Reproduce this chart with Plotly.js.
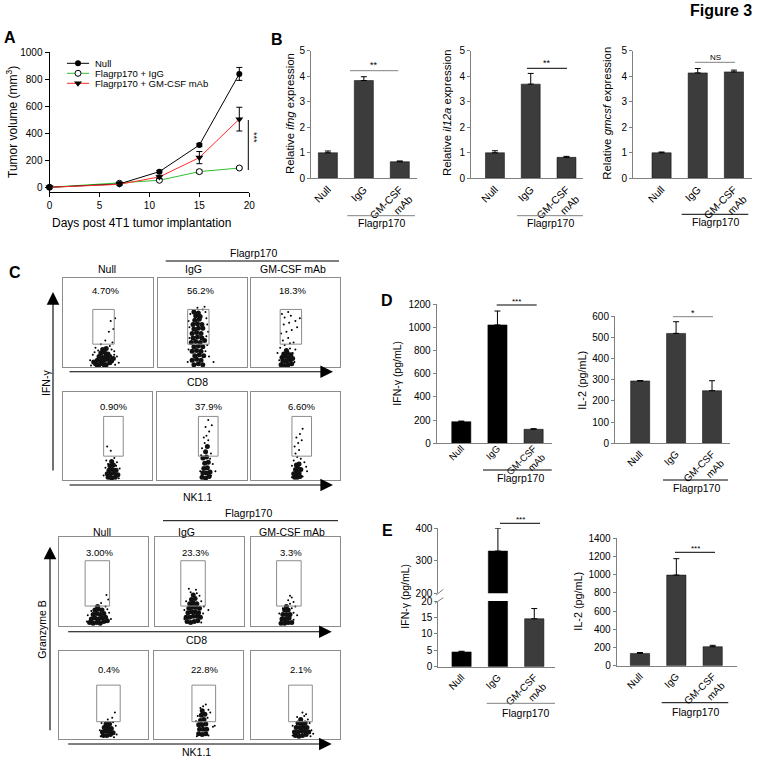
<!DOCTYPE html>
<html><head><meta charset="utf-8">
<script src="https://cdn.plot.ly/plotly-3.0.1.min.js"></script>
<style>html,body{margin:0;padding:0;background:#fff}#chart{width:759px;height:757px}</style>
</head><body><div id="chart"></div>
<script>
// ---------------- DATA ----------------
// Panel A: tumor growth
const days = [0, 7, 11, 15, 19];
const volNull = [0, 25, 116, 313, 840];
const errNull = [0, 5, 8, 10, 48];
const volIgG = [0, 30, 52, 116, 143];
const errIgG = [0, 4, 6, 13, 8];
const volGM = [0, 22, 77, 220, 505];
const errGM = [0, 6, 12, 45, 88];
const seriesNames = ['Null', 'Flagrp170 + IgG', 'Flagrp170 + GM-CSF mAb'];

// Bar groups
const groups = ['Null', 'IgG', 'GM-CSF<br>mAb'];
// Panel B
const ifngExpr = [1.0, 3.83, 0.65];
const ifngErr = [0.07, 0.15, 0.03];
const il12aExpr = [1.0, 3.69, 0.82];
const il12aErr = [0.08, 0.42, 0.04];
const gmcsfExpr = [1.0, 4.13, 4.17];
const gmcsfErr = [0.03, 0.17, 0.07];
// Panel D
const dIfng = [187, 1022, 121];
const dIfngErr = [5, 120, 5];
const dIl2 = [294, 518, 248];
const dIl2Err = [2, 55, 47];
// Panel E
const eIfng = [4.5, 330, 14.6];
const eIfngErr = [0.2, 70, 3.1];
const eIl2 = [135, 996, 209];
const eIl2Err = [10, 180, 15];

// Panel C: flow cytometry events (box units 0-100)
const flowCols = ['Null', 'IgG', 'GM-CSF mAb'];
const pctIfngCd8 = ['4.70%', '56.2%', '18.3%'];
const pctIfngNk = ['0.90%', '37.9%', '6.60%'];
const pctGzmCd8 = ['3.00%', '23.3%', '3.3%'];
const pctGzmNk = ['0.4%', '22.8%', '2.1%'];

const ifngCd8NullCore = [[36,4],[40,3],[44,4],[48,3],[52,5],[38,8],[42,7],[46,8],[50,9],[54,7],[40,12],[44,11],[48,13],[52,12],[42,16],[46,17],[50,15],[44,20],[48,21],[38,2],[46,2],[34,6],[56,10]];
const ifngCd8NullSparse = [[33,14],[57,18],[52,24],[42,26],[55,28],[47,30],[51,40],[56,43],[53,52],[58,55],[36,22],[60,12],[30,8],[62,5],[35,17],[58,3],[31,2],[54,20],[39,19],[57,14]];
const ifngCd8IgGCore = [[40,3],[45,4],[50,3],[38,8],[43,9],[48,8],[41,13],[46,14],[51,13],[38,18],[43,19],[48,18],[40,23],[45,24],[50,23],[37,28],[42,29],[47,28],[52,30],[39,33],[44,34],[49,33],[38,38],[43,39],[48,38],[40,43],[45,44],[50,44],[39,48],[44,49],[49,48],[41,53],[46,54],[42,58],[47,57],[40,62],[45,61]];
const ifngCd8IgGSparse = [[34,20],[55,25],[56,40],[35,45],[54,55],[50,65],[36,60],[53,62],[57,12],[33,6],[62,6],[55,48],[44,67],[52,68],[35,33],[54,35],[34,52],[53,18]];
const ifngCd8GMCore = [[34,3],[38,2],[42,3],[46,4],[36,7],[40,7],[44,8],[35,11],[39,12],[43,11],[47,10],[37,15],[41,16],[45,14],[40,19]];
const ifngCd8GMSparse = [[33,22],[38,25],[44,27],[36,30],[42,33],[48,28],[34,38],[40,40],[46,42],[52,45],[37,48],[43,50],[50,52],[38,56],[45,58],[42,62],[35,60],[55,55],[50,20],[30,16],[49,6],[32,8],[47,16],[44,21]];

const ifngNkNullCore = [[51,3],[55,2],[59,3],[50,7],[54,7],[58,8],[62,6],[52,11],[56,12],[60,11],[53,16],[57,17],[55,21]];
const ifngNkNullSparse = [[49,22],[61,20],[58,25],[54,33],[50,38],[48,14],[64,13],[46,5],[63,2],[51,18],[60,16]];
const ifngNkIgGCore = [[50,3],[54,2],[58,4],[51,8],[55,8],[59,9],[52,13],[56,14],[53,19],[57,20],[51,25],[55,26],[54,32],[56,38]];
const ifngNkIgGSparse = [[50,36],[53,42],[57,45],[55,50],[58,55],[54,60],[52,48],[60,30],[49,28],[62,18],[65,10],[61,62],[57,68],[48,10],[60,5],[59,24]];
const ifngNkGMCore = [[49,3],[52,3],[55,4],[48,7],[51,8],[54,8],[50,12],[53,13],[56,12],[51,17],[54,18]];
const ifngNkGMSparse = [[48,22],[52,26],[56,24],[50,30],[54,34],[49,38],[53,42],[57,45],[51,48],[55,52],[58,58],[60,20],[62,15],[63,10],[46,16],[58,4],[46,3]];

const gzmCd8NullCore = [[34,4],[38,3],[42,4],[46,3],[50,5],[54,6],[36,8],[40,9],[44,8],[48,9],[52,10],[38,13],[42,14],[46,13],[50,14],[40,18],[44,19],[48,18],[43,22]];
const gzmCd8NullSparse = [[32,12],[56,15],[52,22],[47,26],[55,30],[53,35],[31,5],[58,8],[36,17],[54,19]];
const gzmCd8IgGCore = [[36,5],[40,4],[44,5],[48,6],[35,10],[39,10],[43,11],[47,11],[51,10],[37,15],[41,16],[45,16],[49,15],[38,20],[42,21],[46,21],[50,20],[39,25],[43,26],[47,25],[41,30],[45,31],[43,35]];
const gzmCd8IgGSparse = [[40,38],[47,37],[50,34],[35,28],[52,28],[33,18],[54,14],[38,42],[46,41],[55,22],[60,18],[33,8],[52,4]];
const gzmCd8GMCore = [[34,3],[38,3],[42,4],[46,4],[35,8],[39,8],[43,9],[36,13],[40,13],[44,13],[38,18],[42,18],[40,22]];
const gzmCd8GMSparse = [[46,20],[44,25],[48,27],[42,29],[46,32],[50,22],[48,15],[32,14],[52,12],[44,34],[48,7],[36,20]];

const gzmNkNullCore = [[50,4],[54,4],[58,5],[49,8],[53,9],[57,9],[61,7],[51,13],[55,13],[59,12],[53,17],[57,17]];
const gzmNkNullSparse = [[63,30],[48,18],[61,19],[64,15],[46,10],[65,5],[60,24],[55,22],[47,3],[62,2]];
const gzmNkIgGCore = [[50,6],[54,5],[58,6],[51,11],[55,11],[59,11],[50,16],[54,16],[58,17],[52,21],[56,22],[53,27],[57,28],[54,32]];
const gzmNkIgGSparse = [[55,37],[58,39],[52,35],[61,33],[63,30],[47,20],[66,14],[68,15],[49,26],[60,24],[48,3],[61,4]];
const gzmNkGMCore = [[50,4],[54,3],[58,4],[62,5],[49,8],[53,8],[57,9],[61,9],[65,8],[51,13],[55,13],[59,14],[63,13],[53,18],[57,18],[61,18],[56,22]];
const gzmNkGMSparse = [[52,25],[60,26],[64,22],[66,18],[68,10],[47,15],[70,6],[62,28],[58,30],[67,3],[47,4]];

// ---------------- BUILD ----------------
const W = 759, H = 757;
const fx = p => p / W, fy = p => 1 - p / H;
const FONT = 'Liberation Sans, Arial, sans-serif';
const GRAY = '#808080';
const BAR = '#3c3c3c';
const layout = {
  width: W, height: H, margin: {l: 0, r: 0, t: 0, b: 0},
  paper_bgcolor: '#fff', plot_bgcolor: 'rgba(0,0,0,0)', showlegend: false,
  font: {family: FONT, size: 10, color: '#000'}, shapes: [], annotations: []
};
const traces = [];
let axN = 0;
function addAxes(xpx, ypx, xo, yo) {
  axN++;
  const s = axN === 1 ? '' : String(axN);
  layout['xaxis' + s] = Object.assign({domain: [fx(xpx[0]), fx(xpx[1])], anchor: 'y' + s, showgrid: false, zeroline: false, fixedrange: true}, xo);
  layout['yaxis' + s] = Object.assign({domain: [fy(ypx[1]), fy(ypx[0])], anchor: 'x' + s, showgrid: false, zeroline: false, fixedrange: true}, yo);
  return {x: 'x' + s, y: 'y' + s};
}
function txt(x, y, text, size, opts) {
  layout.annotations.push(Object.assign({x: fx(x), y: fy(y), xref: 'paper', yref: 'paper', text: text, showarrow: false,
    xanchor: 'center', yanchor: 'middle', font: {size: size, family: FONT, color: '#000'}}, opts || {}));
}
function hline(x0, x1, y, color, w) {
  layout.shapes.push({type: 'line', xref: 'paper', yref: 'paper', x0: fx(x0), x1: fx(x1), y0: fy(y), y1: fy(y), line: {color: color || '#000', width: w || 1}});
}
function seg(x0, y0, x1, y1, color) {
  layout.shapes.push({type: 'line', xref: 'paper', yref: 'paper', x0: fx(x0), x1: fx(x1), y0: fy(y0), y1: fy(y1), line: {color: color || '#000', width: 1}});
}
function arrow(xt, yt, ax, ay) {
  layout.annotations.push({x: fx(xt), y: fy(yt), xref: 'paper', yref: 'paper', text: '', showarrow: true,
    ax: ax, ay: ay, arrowhead: 2, arrowsize: 2.3, arrowwidth: 1.1, arrowcolor: '#000', standoff: 0});
}

// Panel letters & figure title
txt(754, 10, '<b>Figure 3</b>', 16, {xanchor: 'right'});
txt(10, 37, '<b>A</b>', 16);
txt(277, 40, '<b>B</b>', 16);
txt(15, 272, '<b>C</b>', 16);
txt(387, 300, '<b>D</b>', 16);
txt(387, 530, '<b>E</b>', 16);

// ---------- Panel A ----------
const aAx = addAxes([49.5, 249.3], [52.3, 192.3],
  {range: [0, 20], dtick: 5, showline: true, linecolor: '#000', ticks: 'outside', ticklen: 4, tickcolor: '#000', tickfont: {size: 10}},
  {range: [-37, 1000], tickvals: [0, 200, 400, 600, 800, 1000], showline: true, linecolor: '#000', ticks: 'outside', ticklen: 4, tickcolor: '#000', tickfont: {size: 10}});
const aSeries = [
  {y: volIgG, e: errIgG, c: '#2fc02f', m: {symbol: 'circle', size: 6, color: '#fff', line: {color: '#000', width: 1}}},
  {y: volNull, e: errNull, c: '#000', m: {symbol: 'circle', size: 6, color: '#000'}},
  {y: volGM, e: errGM, c: '#ff2a2a', m: {symbol: 'triangle-down', size: 7, color: '#000'}}
];
aSeries.forEach(s => traces.push({type: 'scatter', mode: 'lines+markers', x: days, y: s.y, xaxis: aAx.x, yaxis: aAx.y,
  line: {color: s.c, width: 1}, marker: s.m, cliponaxis: false,
  error_y: {type: 'data', array: s.e, color: '#000', thickness: 1, width: 3}}));
txt(12, 122, 'Tumor volume (mm<sup>3</sup>)', 12, {textangle: -90});
txt(141, 223, 'Days post 4T1 tumor implantation', 12);
seg(248.3, 120, 248.3, 170);
txt(254, 137, '***', 9, {textangle: 90});
// manual legend
const legAx = addAxes([66.7, 89.3], [58.3, 88.3], {range: [0, 1], visible: false}, {range: [0.5, 3.5], visible: false});
const legStyle = [aSeries[1], aSeries[0], aSeries[2]];
legStyle.forEach((s, i) => {
  const row = 3 - i;
  traces.push({type: 'scatter', mode: 'lines', x: [0, 1], y: [row, row], xaxis: legAx.x, yaxis: legAx.y, line: {color: s.c, width: 1}});
  traces.push({type: 'scatter', mode: 'markers', x: [0.5], y: [row], xaxis: legAx.x, yaxis: legAx.y, marker: s.m});
  txt(93.3, 63.3 + 10 * i, seriesNames[i], 9.5, {xanchor: 'left'});
});

// ---------- bar panels ----------
function barPanel(xpx, ypx, xr, yo, vals, errs, colors, catSize, standoff) {
  const a = addAxes(xpx, ypx,
    {type: 'category', range: xr, showline: true, linecolor: GRAY, ticks: '', tickangle: -45, tickfont: {size: catSize || 10.5},
     ticklabelstandoff: standoff || 0},
    Object.assign({showline: true, linecolor: GRAY, ticks: 'outside', ticklen: 3, tickcolor: GRAY, tickfont: {size: 10}}, yo));
  traces.push({type: 'bar', x: groups, y: vals, xaxis: a.x, yaxis: a.y, width: 0.53,
    marker: {color: colors, line: {color: '#000', width: 0.5}},
    error_y: {type: 'data', symmetric: false, array: errs, arrayminus: errs.map(() => 0), color: '#000', thickness: 1, width: 3}});
  return a;
}
const grayCols = [BAR, BAR, BAR];
const blackCols = ['#000', '#000', BAR];

// Panel B
barPanel([311, 416.7], [50.7, 178.3], [-0.47, 2.47], {range: [0, 5], dtick: 1}, ifngExpr, ifngErr, grayCols);
barPanel([471, 583.3], [50.7, 178.3], [-0.67, 2.47], {range: [0, 5], dtick: 1}, il12aExpr, il12aErr, grayCols);
barPanel([633, 752], [50.7, 178.3], [-0.79, 2.5], {range: [0, 5], dtick: 1}, gmcsfExpr, gmcsfErr, grayCols);
txt(290, 114, 'Relative <i>ifng</i> expression', 11.4, {textangle: -90});
txt(447, 113, 'Relative <i>il12a</i> expression', 11.4, {textangle: -90});
txt(606.7, 113, 'Relative <i>gmcsf</i> expression', 11.4, {textangle: -90});
hline(350, 398.3, 70.7, GRAY); txt(374, 65, '**', 9);
hline(527, 567, 68.3, '#000'); txt(547, 63, '**', 9);
hline(695, 735, 62.3, GRAY); txt(715, 57.5, 'NS', 8);
hline(347.3, 415, 215.7, GRAY); txt(381, 223, 'Flagrp170', 10.5);
hline(517, 583, 215.7, GRAY); txt(550, 222.7, 'Flagrp170', 10.5);
hline(681.7, 748.3, 214.3, '#000'); txt(715, 222, 'Flagrp170', 10.5);

// Panel D
barPanel([436.7, 551.7], [304.3, 443.3], [-0.68, 2.5], {range: [0, 1200], dtick: 200}, dIfng, dIfngErr, blackCols, 9.5, -5);
barPanel([615, 730], [316, 443.3], [-0.7, 2.5], {range: [0, 600], dtick: 100}, dIl2, dIl2Err, grayCols, 10);
txt(396.7, 373, 'IFN-γ (pg/mL)', 10.5, {textangle: -90});
txt(581.7, 380, 'IL-2 (pg/mL)', 10.8, {textangle: -90});
hline(496.7, 536.7, 305, '#000'); txt(516.7, 301, '***', 8);
hline(673, 713, 316.7, GRAY); txt(693, 313, '*', 9);
hline(483, 551.7, 470, '#000'); txt(520, 478, 'Flagrp170', 10.5);
hline(663, 728, 480, '#000'); txt(696.7, 488.3, 'Flagrp170', 10.5);

// Panel E (broken axis)
barPanel([438.3, 555], [601, 666.7], [-0.64, 2.57], {range: [0, 20], tickvals: [0, 5, 10, 15, 20]}, eIfng, eIfngErr, blackCols, 10);
const eUp = addAxes([438.3, 555], [528.3, 593.3],
  {type: 'category', range: [-0.64, 2.57], showline: false, ticks: '', showticklabels: false},
  {range: [200, 400], tickvals: [200, 300, 400], showline: true, linecolor: GRAY, ticks: 'outside', ticklen: 3, tickcolor: GRAY, tickfont: {size: 10}});
traces.push({type: 'bar', x: groups, y: eIfng, xaxis: eUp.x, yaxis: eUp.y, width: 0.53,
  marker: {color: blackCols, line: {color: '#000', width: 0.5}},
  error_y: {type: 'data', symmetric: false, array: eIfngErr, arrayminus: eIfngErr.map(() => 0), color: '#000', thickness: 1, width: 3}});
seg(436.2, 595, 443.3, 589.3, GRAY);
seg(435, 603.3, 443.3, 597.7, GRAY);
barPanel([616.7, 736.7], [538.3, 665.7], [-0.64, 2.66], {range: [0, 1400], dtick: 200}, eIl2, eIl2Err, grayCols, 10);
txt(405, 596.7, 'IFN-γ (pg/mL)', 10.5, {textangle: -90});
txt(578, 601.7, 'IL-2 (pg/mL)', 10.8, {textangle: -90});
hline(500, 540, 523.3, '#000'); txt(520, 519.5, '***', 8);
hline(675, 715, 552.3, '#000'); txt(695, 548.5, '***', 8);
hline(486.7, 555, 703.3, GRAY); txt(525, 712.7, 'Flagrp170', 10.5);
hline(661.7, 728.3, 702.7, '#000'); txt(695, 711.7, 'Flagrp170', 10.5);

// ---------- Panel C (flow plots) ----------
const flowRows = [
  {boxes: [[63.3, 152.7], [158.3, 247.3], [250.7, 340]], y: [278.3, 367.3], gate: [33, 57, 26, 65], pct: pctIfngCd8, pxy: [47, 86],
   ev: [[ifngCd8NullCore, ifngCd8NullSparse], [ifngCd8IgGCore, ifngCd8IgGSparse], [ifngCd8GMCore, ifngCd8GMSparse]]},
  {boxes: [[62.7, 151.7], [157.3, 246.7], [251, 340]], y: [391.7, 480], gate: [46, 68, 27, 72], pct: pctIfngNk, pxy: [57, 83],
   ev: [[ifngNkNullCore, ifngNkNullSparse], [ifngNkIgGCore, ifngNkIgGSparse], [ifngNkGMCore, ifngNkGMSparse]]},
  {boxes: [[59.3, 148.3], [155, 244], [250.7, 340]], y: [537.3, 626], gate: [29, 56.5, 22.5, 73.6], pct: pctGzmCd8, pxy: [45, 82.6],
   ev: [[gzmCd8NullCore, gzmCd8NullSparse], [gzmCd8IgGCore, gzmCd8IgGSparse], [gzmCd8GMCore, gzmCd8GMSparse]]},
  {boxes: [[59, 147.7], [154, 243.3], [250.7, 340]], y: [650.7, 739], gate: [42.5, 69, 19.6, 61], pct: pctGzmNk, pxy: [56, 79],
   ev: [[gzmNkNullCore, gzmNkNullSparse], [gzmNkIgGCore, gzmNkIgGSparse], [gzmNkGMCore, gzmNkGMSparse]]}
];
const BOXC = '#8c8c8c';
flowRows.forEach(r => {
  r.boxes.forEach((bx, c) => {
    const a = addAxes(bx, r.y,
      {range: [0, 100], showline: true, mirror: true, linecolor: BOXC, linewidth: 1, ticks: '', showticklabels: false},
      {range: [0, 100], showline: true, mirror: true, linecolor: BOXC, linewidth: 1, ticks: '', showticklabels: false});
    const core = r.ev[c][0], sparse = r.ev[c][1];
    traces.push({type: 'scatter', mode: 'markers', x: core.map(p => p[0]), y: core.map(p => p[1]), xaxis: a.x, yaxis: a.y,
      marker: {size: 5, color: '#111'}});
    traces.push({type: 'scatter', mode: 'markers', x: sparse.map(p => p[0]), y: sparse.map(p => p[1]), xaxis: a.x, yaxis: a.y,
      marker: {size: 2, color: '#000'}});
    layout.shapes.push({type: 'rect', xref: a.x, yref: a.y, x0: r.gate[0], x1: r.gate[1], y0: r.gate[2], y1: r.gate[3],
      line: {color: BOXC, width: 1}, fillcolor: 'rgba(0,0,0,0)'});
    layout.annotations.push({x: r.pxy[0], y: r.pxy[1], xref: a.x, yref: a.y, text: r.pct[c], showarrow: false,
      font: {size: 9.5, family: FONT, color: '#000'}});
  });
});
// headers
[[269, 253, 261, 165.7, 339], [531.7, 513.3, 520.7, 163, 338]].forEach((h, i) => {
  const xs = i === 0 ? [107, 193, 293] : [101.7, 186.7, 291.7];
  flowCols.forEach((t, c) => txt(xs[c], h[0], t, 10.5));
  txt(i === 0 ? 253 : 248, h[1], 'Flagrp170', 10.5);
  hline(h[3], h[4], h[2], '#000');
});
// arrows and axis labels
arrow(53, 292, 0, 180);
arrow(333, 371.7, -265, 0);
arrow(333, 485, -265, 0);
arrow(50, 546.7, 0, 185);
arrow(331.7, 631.7, -265, 0);
arrow(331.7, 744, -265, 0);
txt(197, 381.7, 'CD8', 10.5);
txt(197, 496.5, 'NK1.1', 10.5);
txt(196.7, 639.5, 'CD8', 10.5);
txt(196.7, 752, 'NK1.1', 10.5);
txt(46, 383, 'IFN-γ', 10.5, {textangle: -90});
txt(41.7, 630, 'Granzyme B', 10.5, {textangle: -90});

Plotly.newPlot('chart', traces, layout, {staticPlot: true, displayModeBar: false});
</script>
</body></html>
